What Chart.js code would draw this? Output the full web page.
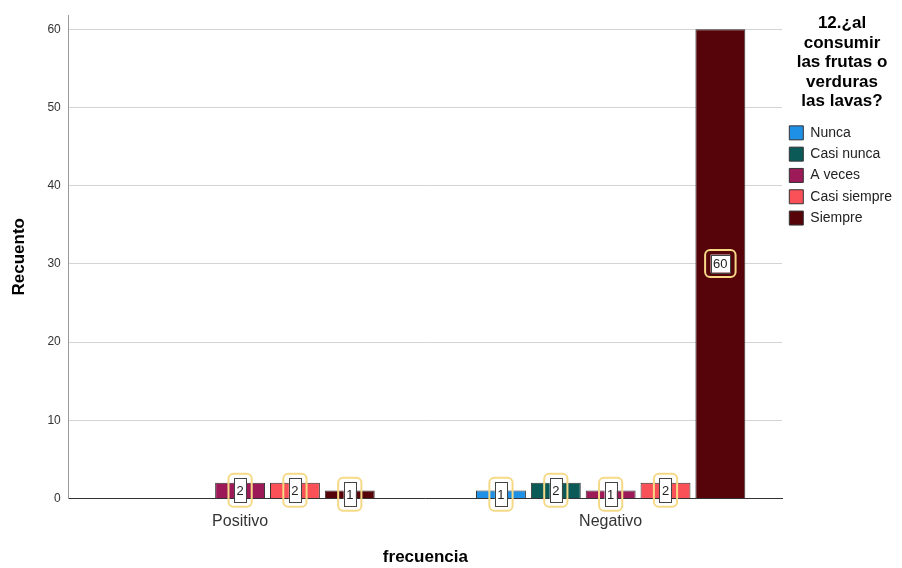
<!DOCTYPE html>
<html lang="es">
<head>
  <meta charset="UTF-8" />
  <title>Recuento por frecuencia</title>
  <script src="https://cdn.jsdelivr.net/npm/chart.js"></script>
  <style>
    body { margin: 0; background: #fff; }
    #wrap { width: 902px; height: 568px; }
  </style>
</head>
<body>
  <div id="wrap"><canvas id="chart"></canvas></div>

  <script>
    const categories = ['Positivo', 'Negativo'];
    const seriesNames = ['Nunca', 'Casi nunca', 'A veces', 'Casi siempre', 'Siempre'];
    const seriesColors = ['#1e90e6', '#0b5a58', '#9c1a58', '#fa5057', '#560409'];
    const nunca = [null, 1];
    const casiNunca = [null, 2];
    const aVeces = [2, 1];
    const casiSiempre = [2, 2];
    const siempre = [1, 60];
    const yTicks = [0, 10, 20, 30, 40, 50, 60];

    const seriesValues = [nunca, casiNunca, aVeces, casiSiempre, siempre];
    const font = "'Liberation Sans', Arial, sans-serif";

    // cajas de etiqueta estilo SPSS
    const labelBoxes = {
      id: 'labelBoxes',
      afterDatasetsDraw(chart) {
        const ctx = chart.ctx;
        ctx.save();
        ctx.font = '13px ' + font;
        ctx.textAlign = 'center';
        ctx.textBaseline = 'middle';
        chart.data.datasets.forEach((ds, i) => {
          chart.getDatasetMeta(i).data.forEach((bar, j) => {
            const v = ds.data[j].y;
            if (v == null) return;
            const txt = String(v);
            const cx = bar.x;
            const cy = (bar.y + bar.base) / 2;
            const tw = ctx.measureText(txt).width;
            const iw = tw + 5, ih = txt.length > 1 ? 18 : 24;
            const ow = iw + 11, oh = ih + 9;
            ctx.beginPath();
            ctx.roundRect(cx - ow / 2, cy - oh / 2, ow, oh, 5);
            ctx.lineWidth = 2;
            ctx.strokeStyle = '#f6d987';
            ctx.stroke();
            ctx.fillStyle = '#fff';
            ctx.fillRect(cx - iw / 2, cy - ih / 2, iw, ih);
            ctx.lineWidth = 1;
            ctx.strokeStyle = '#444';
            ctx.strokeRect(Math.round(cx - iw / 2) + 0.5, Math.round(cy - ih / 2) + 0.5, Math.round(iw), Math.round(ih));
            ctx.fillStyle = '#222';
            ctx.fillText(txt, cx, cy + 1);
          });
        });
        ctx.restore();
      }
    };

    new Chart(document.getElementById('chart'), {
      type: 'bar',
      data: {
        datasets: seriesNames.map((name, i) => ({
          label: name,
          data: seriesValues[i].map((v, j) => ({ x: j, y: v })),
          backgroundColor: seriesColors[i],
          borderColor: '#333',
          borderWidth: 1,
          categoryPercentage: 0.74,
          barPercentage: 0.91
        }))
      },
      options: {
        responsive: true,
        maintainAspectRatio: false,
        animation: false,
        layout: { padding: { top: 15, right: 0, left: 9, bottom: 0 } },
        scales: {
          x: {
            type: 'linear',
            offset: false,
            min: -0.4624,
            max: 1.4624,
            afterBuildTicks: (scale) => { scale.ticks = categories.map((c, i) => ({ value: i })); },
            ticks: {
              callback: (v) => categories[v],
              font: { family: font, size: 16 },
              color: '#333',
              padding: 14
            },
            grid: { display: false, drawTicks: false, offset: false },
            border: { color: '#333', width: 1 },
            title: {
              display: true,
              text: 'frecuencia',
              font: { family: font, size: 17, weight: 'bold' },
              color: '#000',
              padding: { top: 2, bottom: 0 }
            }
          },
          y: {
            min: 0,
            max: 61.8,
            afterBuildTicks: (scale) => { scale.ticks = yTicks.map(v => ({ value: v })); },
            ticks: {
              font: { family: font, size: 12 },
              color: '#333',
              padding: 8
            },
            grid: { color: '#d4d4d4', drawTicks: false },
            border: { color: '#999', width: 1 },
            title: {
              display: true,
              text: 'Recuento',
              font: { family: font, size: 17, weight: 'bold' },
              color: '#000',
              padding: { top: 0, bottom: 10 }
            }
          }
        },
        plugins: {
          legend: {
            position: 'right',
            align: 'start',
            title: {
              display: true,
              text: ['12.¿al', 'consumir', 'las frutas o', 'verduras', 'las lavas?'],
              font: { family: font, size: 17, weight: 'bold', lineHeight: 1.15 },
              color: '#000',
              padding: { top: 0, bottom: 84 }
            },
            labels: {
              boxWidth: 14,
              boxHeight: 14,
              padding: 7.3,
              font: { family: font, size: 14 },
              color: '#222'
            }
          },
          tooltip: { enabled: false }
        }
      },
      plugins: [labelBoxes]
    });
  </script>
</body>
</html>
